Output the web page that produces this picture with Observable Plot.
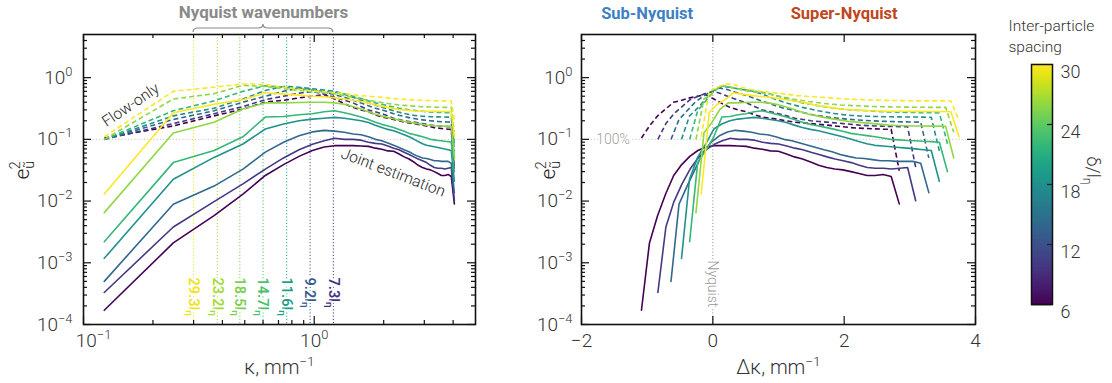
<!DOCTYPE html>
<html><head><meta charset="utf-8">
<script src="https://cdn.jsdelivr.net/npm/d3@7"></script>
<script src="https://cdn.jsdelivr.net/npm/@observablehq/plot@0.6"></script>
<style>
body{margin:0;background:#fff;}
#wrap{position:relative;width:1112px;height:383px;overflow:hidden;}
#left,#right,#cbar{position:absolute;top:0;}
#left{left:0}#right{left:530px}#cbar{left:1000px}
</style></head><body><div id="wrap"><div id="left"></div><div id="right"></div><div id="cbar"></div></div>
<script>
// ---------------- data ----------------
const spacings = [7.3, 9.2, 11.6, 14.7, 18.5, 23.2, 29.3];          // inter-particle spacing / l_eta
const nyquistKappa = [1.21, 0.96, 0.76, 0.60, 0.476, 0.38, 0.30];   // Nyquist wavenumber, mm^-1
const kappa = [0.123,0.245,0.368,0.491,0.614,0.736,0.859,0.982,1.104,1.227,1.350,1.472,1.595,1.718,1.841,1.963,2.086,2.209,2.331,2.454,2.577,2.699,2.822,2.945,3.068,3.190,3.313,3.436,3.558,3.681,3.804,3.926,4.049];

// joint estimation (solid)
const joint73  = [0.00017,0.0021,0.0058,0.013,0.026,0.039,0.053,0.066,0.075,0.079,0.079,0.079,0.078,0.077,0.072,0.069,0.065,0.064,0.058,0.052,0.048,0.043,0.038,0.035,0.033,0.032,0.030,0.028,0.026,0.026,0.027,0.025,0.009];
const joint92  = [0.00033,0.0038,0.0098,0.019,0.033,0.050,0.068,0.083,0.095,0.104,0.100,0.100,0.097,0.090,0.086,0.084,0.078,0.072,0.068,0.062,0.057,0.052,0.048,0.045,0.042,0.038,0.035,0.034,0.034,0.033,0.034,0.035,0.0101];
const joint116 = [0.0005,0.0089,0.0175,0.033,0.062,0.090,0.114,0.132,0.140,0.136,0.130,0.122,0.119,0.110,0.100,0.095,0.087,0.080,0.074,0.068,0.063,0.057,0.053,0.050,0.049,0.047,0.045,0.045,0.044,0.044,0.044,0.041,0.0137];
const joint147 = [0.00118,0.0226,0.051,0.084,0.147,0.177,0.200,0.213,0.220,0.227,0.220,0.210,0.200,0.188,0.170,0.156,0.145,0.138,0.128,0.119,0.110,0.101,0.092,0.085,0.080,0.078,0.076,0.074,0.072,0.070,0.068,0.066,0.021];
const joint185 = [0.0022,0.042,0.066,0.11,0.23,0.235,0.25,0.26,0.28,0.29,0.27,0.25,0.23,0.21,0.19,0.175,0.165,0.155,0.145,0.135,0.125,0.12,0.115,0.11,0.105,0.10,0.098,0.096,0.095,0.093,0.092,0.09,0.03];
const joint232 = [0.0065,0.127,0.19,0.31,0.39,0.39,0.395,0.40,0.40,0.39,0.37,0.34,0.31,0.28,0.255,0.24,0.225,0.215,0.205,0.195,0.19,0.185,0.18,0.175,0.17,0.168,0.166,0.165,0.165,0.164,0.164,0.162,0.05];
const joint293 = [0.013,0.27,0.37,0.44,0.57,0.54,0.52,0.50,0.49,0.47,0.45,0.43,0.41,0.39,0.36,0.345,0.33,0.315,0.305,0.30,0.295,0.29,0.288,0.286,0.285,0.285,0.284,0.284,0.283,0.282,0.282,0.28,0.11];

// flow-only (dashed)
const flow73  = [0.105,0.165,0.24,0.31,0.40,0.43,0.47,0.50,0.53,0.45,0.38,0.33,0.30,0.28,0.25,0.23,0.22,0.21,0.20,0.19,0.185,0.18,0.175,0.17,0.165,0.16,0.155,0.152,0.15,0.148,0.146,0.145,0.031];
const flow92  = [0.10,0.18,0.26,0.34,0.44,0.50,0.56,0.60,0.54,0.48,0.43,0.39,0.34,0.30,0.28,0.26,0.24,0.22,0.21,0.20,0.195,0.19,0.185,0.18,0.175,0.17,0.167,0.165,0.163,0.162,0.161,0.16,0.035];
const flow116 = [0.10,0.21,0.29,0.40,0.50,0.60,0.68,0.64,0.58,0.53,0.48,0.43,0.39,0.35,0.32,0.30,0.28,0.26,0.245,0.235,0.225,0.218,0.212,0.207,0.203,0.20,0.197,0.195,0.193,0.192,0.191,0.19,0.05];
const flow147 = [0.10,0.24,0.32,0.45,0.62,0.72,0.70,0.66,0.63,0.60,0.54,0.48,0.43,0.39,0.36,0.33,0.31,0.29,0.275,0.262,0.252,0.245,0.24,0.237,0.235,0.233,0.232,0.231,0.23,0.23,0.229,0.228,0.065];
const flow185 = [0.10,0.29,0.42,0.60,0.74,0.70,0.66,0.63,0.60,0.58,0.54,0.50,0.46,0.42,0.39,0.37,0.35,0.335,0.32,0.31,0.30,0.295,0.29,0.285,0.28,0.278,0.276,0.274,0.272,0.27,0.27,0.268,0.085];
const flow232 = [0.10,0.45,0.55,0.75,0.72,0.66,0.62,0.59,0.57,0.55,0.51,0.48,0.45,0.43,0.41,0.395,0.38,0.37,0.36,0.355,0.35,0.345,0.34,0.338,0.336,0.334,0.333,0.332,0.331,0.33,0.33,0.33,0.13];
const flow293 = [0.11,0.60,0.70,0.79,0.78,0.70,0.65,0.61,0.59,0.57,0.55,0.53,0.51,0.50,0.49,0.48,0.47,0.46,0.45,0.445,0.44,0.435,0.43,0.428,0.426,0.424,0.422,0.42,0.42,0.42,0.42,0.418,0.20];

const yTicksMajor = [1e-4, 1e-3, 1e-2, 1e-1, 1];
const xTicksLeft = [0.1, 1];
const xTicksRight = [-2, 0, 2, 4];
const cbarTicks = [6, 12, 18, 24, 30];
const annotations = [
  {text: "Flow-only", kappa: 0.16, v: 0.36, angle: -34},
  {text: "Joint estimation", kappa: 2.2, v: 0.029, angle: 21}
];

// ---------------- table ----------------
const jointSeries = [joint73, joint92, joint116, joint147, joint185, joint232, joint293];
const flowSeries  = [flow73, flow92, flow116, flow147, flow185, flow232, flow293];
const jointRows = [], flowRows = [];
spacings.forEach((s, i) => kappa.forEach((k, j) => {
  jointRows.push({s, kappa: k, dk: k - nyquistKappa[i], v: jointSeries[i][j]});
  flowRows.push({s, kappa: k, dk: k - nyquistKappa[i], v: flowSeries[i][j]});
}));

// ---------------- styling ----------------
const lineColors = spacings.map((_, i) => d3.interpolateViridis(i / (spacings.length - 1)));
const labelColors = ["#46337e", "#365c8d", "#1fa187", "#4ac16d", "#7ad151", "#a5db36", "#f0e31c"];
const FONT = "Roboto, 'Liberation Sans', sans-serif";
const style = {fontFamily: FONT, fontWeight: 300, color: "#333", background: "white", overflow: "visible"};
const H = 383, MT = 34, MB = 59;

const minorLog = (lo, hi) => { const out = []; for (let e = lo; e <= hi; e++) for (let m = 2; m <= 9; m++) out.push(m * Math.pow(10, e)); return out; };
const yMinor = minorLog(-4, 0).filter(d => d < 5);
const xMinorLeft = minorLog(-1, 0).filter(d => d < 5);
const sup = d => { const e = Math.round(Math.log10(d)); return `10^{${e < 0 ? "−" + (-e) : e}}`; };

function frameTicks(pw, ph, xMaj, xMin, yMaj, yMin) {
  const o = {stroke: "#111", strokeWidth: 1.2};
  const m = [
    Plot.ruleY(yMaj, {...o, insetRight: pw - 8}), Plot.ruleY(yMaj, {...o, insetLeft: pw - 8}),
    Plot.ruleY(yMin, {...o, insetRight: pw - 4}), Plot.ruleY(yMin, {...o, insetLeft: pw - 4}),
    Plot.ruleX(xMaj, {...o, insetTop: ph - 8}), Plot.ruleX(xMaj, {...o, insetBottom: ph - 8})
  ];
  if (xMin.length) m.push(Plot.ruleX(xMin, {...o, insetTop: ph - 4}), Plot.ruleX(xMin, {...o, insetBottom: ph - 4}));
  return m;
}
const yAxisMarks = pad => [Plot.axisY({ticks: yTicksMajor, tickSize: 0, tickPadding: pad, tickFormat: sup, fontSize: 19, label: null})];
const ylabel = dx => Plot.text(["e_{ũ}^{2}"], {text: d => d, frameAnchor: "left", lineAnchor: "middle", dx, rotate: -90, fontSize: 21, fill: "#222"});

// ---------------- left panel ----------------
const LW = 540, LML = 83, LMR = 65;
const lpw = LW - LML - LMR, ph = H - MT - MB;
const nyqRules = [], nyqTexts = [];
spacings.forEach((s, i) => {
  nyqRules.push(Plot.ruleX([nyquistKappa[i]], {stroke: labelColors[i], strokeDasharray: "1.2,2", strokeWidth: 1}));
  nyqTexts.push(Plot.text([nyquistKappa[i]], {x: d => d, text: () => `${s}l_{η}`, frameAnchor: "bottom", lineAnchor: "middle", dy: -47, rotate: 90,
    textAnchor: "start", fill: labelColors[i], stroke: "white", strokeWidth: 4, fontSize: 14.5, fontWeight: 600}));
});
const kLo = d3.min(nyquistKappa), kHi = d3.max(nyquistKappa);
const bracket = (index, scales, values, dim) => {
  const x1 = scales.x(kLo), x2 = scales.x(kHi), xc = (x1 + x2) / 2, t = dim.marginTop;
  const p = document.createElementNS("http://www.w3.org/2000/svg", "path");
  const yb = t - 2, yl = t - 6, yc = t - 10;
  p.setAttribute("d", `M${x1},${yb}Q${x1},${yl} ${x1 + 5},${yl}L${xc - 5},${yl}Q${xc},${yl} ${xc},${yc}Q${xc},${yl} ${xc + 5},${yl}L${x2 - 5},${yl}Q${x2},${yl} ${x2},${yb}`);
  p.setAttribute("fill", "none"); p.setAttribute("stroke", "#888"); p.setAttribute("stroke-width", "1.2");
  return p;
};
const left = Plot.plot({
  width: LW, height: H, marginLeft: LML, marginRight: LMR, marginTop: MT, marginBottom: MB,
  x: {type: "log", domain: [0.1, 5]},
  y: {type: "log", domain: [1e-4, 5]},
  color: {type: "ordinal", domain: spacings, range: lineColors},
  style,
  marks: [
    Plot.ruleY([0.1], {stroke: "#c8c8c8", strokeDasharray: "1.2,2"}),
    ...nyqRules,
    Plot.line(flowRows, {x: "kappa", y: "v", z: "s", stroke: "s", strokeWidth: 1.6, strokeDasharray: "5,3", strokeLinecap: "butt"}),
    Plot.line(jointRows, {x: "kappa", y: "v", z: "s", stroke: "s", strokeWidth: 1.6}),
    ...nyqTexts,
    Plot.text(annotations, {x: "kappa", y: "v", text: "text", rotate: d => d.angle, fontSize: 15.5, fill: "#222"}),
    bracket,
    Plot.text(["Nyquist wavenumbers"], {x: () => Math.sqrt(kLo * kHi), text: d => d, frameAnchor: "top", lineAnchor: "middle", dy: -22, fontSize: 17, fontWeight: "bold", fill: "#8a8a8a"}),
    ...frameTicks(lpw, ph, xTicksLeft, xMinorLeft, yTicksMajor, yMinor),
    Plot.frame({stroke: "#111", strokeWidth: 1.6}),
    ...yAxisMarks(11),
    Plot.axisX({ticks: [0.1], tickSize: 0, tickPadding: 9, tickFormat: sup, fontSize: 19, label: null, dx: 10}),
    Plot.axisX({ticks: [1], tickSize: 0, tickPadding: 9, tickFormat: sup, fontSize: 19, label: null}),
    ylabel(-(LML - 22)),
    Plot.text(["κ, mm^{−1}"], {text: d => d, frameAnchor: "bottom", lineAnchor: "middle", dy: 43, fontSize: 20, fill: "#333"})
  ]
});
document.getElementById("left").appendChild(left);

// ---------------- right panel ----------------
const RW = 470, RML = 51, RMR = 25;
const rpw = RW - RML - RMR;
const right = Plot.plot({
  width: RW, height: H, marginLeft: RML, marginRight: RMR, marginTop: MT, marginBottom: MB,
  x: {type: "linear", domain: [-2, 4]},
  y: {type: "log", domain: [1e-4, 5]},
  color: {type: "ordinal", domain: spacings, range: lineColors},
  style,
  marks: [
    Plot.ruleY([0.1], {stroke: "#c8c8c8", strokeDasharray: "1.2,2"}),
    Plot.ruleX([0], {stroke: "#9a9a9a", strokeDasharray: "1.2,2"}),
    Plot.line(flowRows, {x: "dk", y: "v", z: "s", stroke: "s", strokeWidth: 1.6, strokeDasharray: "5,3", strokeLinecap: "butt"}),
    Plot.line(jointRows, {x: "dk", y: "v", z: "s", stroke: "s", strokeWidth: 1.6}),
    Plot.text([{x: 0, t: "Nyquist"}], {x: "x", text: "t", frameAnchor: "bottom", lineAnchor: "middle", dy: -64, rotate: 90, textAnchor: "start", fill: "#999", stroke: "white", strokeWidth: 4, fontSize: 14}),
    Plot.text([{x: -1.52, y: 0.1, t: "100%"}], {x: "x", y: "y", text: "t", fill: "#a0a0a0", stroke: "white", strokeWidth: 5, fontSize: 14}),
    Plot.text([{x: -1, t: "Sub-Nyquist"}], {x: "x", text: "t", frameAnchor: "top", lineAnchor: "middle", dy: -21, fontSize: 16.5, fontWeight: "bold", fill: "#3f7fc4"}),
    Plot.text([{x: 2, t: "Super-Nyquist"}], {x: "x", text: "t", frameAnchor: "top", lineAnchor: "middle", dy: -21, fontSize: 16.5, fontWeight: "bold", fill: "#c0461c"}),
    ...frameTicks(rpw, ph, xTicksRight, [], yTicksMajor, yMinor),
    Plot.frame({stroke: "#111", strokeWidth: 1.6}),
    ...yAxisMarks(9),
    Plot.axisX({ticks: xTicksRight, tickSize: 0, tickPadding: 9, tickFormat: d => d < 0 ? "−" + (-d) : String(d), fontSize: 19, label: null}),
    ylabel(-(RML - 18)),
    Plot.text(["Δκ, mm^{−1}"], {text: d => d, frameAnchor: "bottom", lineAnchor: "middle", dy: 43, fontSize: 20, fill: "#333"})
  ]
});
document.getElementById("right").appendChild(right);

// ---------------- colorbar ----------------
const CW = 112, CML = 31, CMR = 60, CMT = 64, CMB = 79;
const cbw = CW - CML - CMR;
const cbSteps = d3.range(6, 30.001, 0.1);
const cbar = Plot.plot({
  width: CW, height: H, marginLeft: CML, marginRight: CMR, marginTop: CMT, marginBottom: CMB,
  x: {domain: [0, 1], axis: null},
  y: {domain: [6, 30]},
  color: {type: "linear", scheme: "viridis", domain: [6, 30]},
  style,
  marks: [
    Plot.ruleY(cbSteps, {y: d => d, stroke: d => d, strokeWidth: 1.6}),
    Plot.ruleY([12, 18, 24], {insetLeft: cbw - 5, stroke: "#222", strokeWidth: 1.3}),
    Plot.frame({stroke: "#111", strokeWidth: 1.5}),
    Plot.axisY({anchor: "right", ticks: cbarTicks, tickSize: 0, tickPadding: 8, dy: 8, fontSize: 18, label: null}),
    Plot.text(["Inter-particle\nspacing"], {text: d => d, frameAnchor: "top-left", dx: -23, dy: -30, textAnchor: "start", lineAnchor: "middle", lineHeight: 1.4, fontSize: 15.5, fill: "#333"}),
    Plot.text(["δ/l_{η}"], {text: d => d, frameAnchor: "right", lineAnchor: "middle", dx: 40, rotate: 90, fontSize: 18, fill: "#333"})
  ]
});
document.getElementById("cbar").appendChild(cbar);

// ---------------- sub/superscripts ----------------
function richify(root) {
  const NS = "http://www.w3.org/2000/svg";
  root.querySelectorAll("text").forEach(t => {
    const s = t.textContent;
    if (!/[_^]\{/.test(s)) return;
    const fs = parseFloat(getComputedStyle(t).fontSize) || 16;
    while (t.firstChild) t.removeChild(t.firstChild);
    const re = /([_^])\{([^}]*)\}/g; let last = 0, m, prevSub = false;
    while ((m = re.exec(s))) {
      if (m.index > last) { t.appendChild(document.createTextNode(s.slice(last, m.index))); prevSub = false; }
      const ts = document.createElementNS(NS, "tspan");
      ts.setAttribute("font-size", (fs * 0.68).toFixed(1) + "px");
      ts.setAttribute("baseline-shift", m[1] === "_" ? (-fs * 0.22).toFixed(1) + "px" : (fs * 0.42).toFixed(1) + "px");
      if (m[1] === "^" && prevSub) ts.setAttribute("dx", (-fs * 0.4).toFixed(1) + "px");
      ts.textContent = m[2];
      t.appendChild(ts);
      prevSub = m[1] === "_";
      last = re.lastIndex;
    }
    if (last < s.length) t.appendChild(document.createTextNode(s.slice(last)));
  });
}
[left, right, cbar].forEach(richify);
</script></body></html>
